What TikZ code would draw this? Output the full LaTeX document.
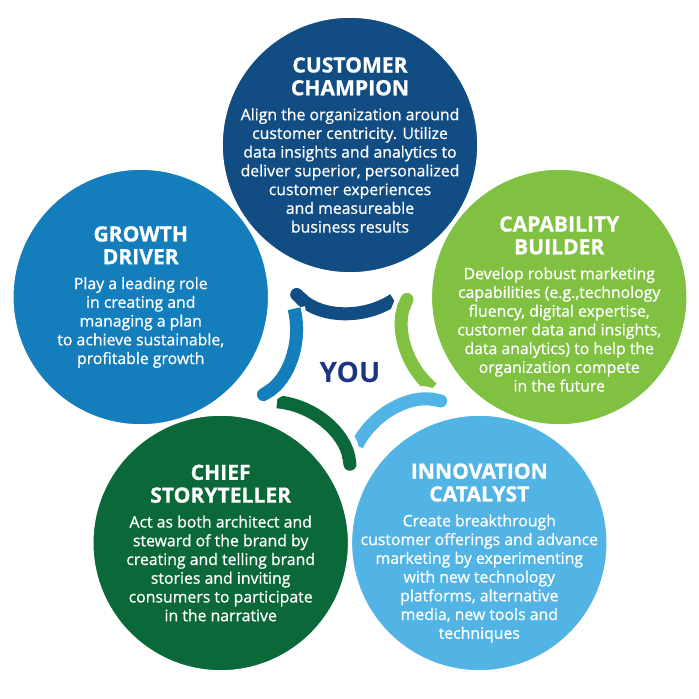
\documentclass[tikz,border=0pt]{standalone}
\usepackage{fontspec}
\setmainfont{Open Sans}
\newfontfamily\semibold{Open Sans}[FakeBold=0.8]
\usepackage{tikz}
\usetikzlibrary{arrows.meta}
\usepackage{color}
\definecolor{champion-blue}{RGB}{17,76,131}
\definecolor{growth-blue}{RGB}{20,126,188}
\definecolor{builder-green}{RGB}{128,193,66}
\definecolor{story-green}{RGB}{11,104,56}
\definecolor{catalyst-blue}{RGB}{82,180,229}
\definecolor{you-blue}{RGB}{28,52,132}
\newcommand{\roletitle}{\bfseries\fontsize{12}{13}\selectfont}

\tikzset{
	role/.style={circle, draw=white, line width=1.5pt, minimum size=5.14cm, inner sep=0pt},
	roletext/.style={text=white, align=center, inner sep=0pt, font=\semibold\fontsize{9}{10.66}\selectfont},
	gapline/.style={white, line width=0.44cm, arrows={Round Cap-}},
	ringline/.style={line width=0.26cm, arrows={Round Cap-}}
}

\begin{document}
\begin{tikzpicture}

			\useasboundingbox (-7,-6.68) rectangle (6.98,7.3);

			% the five roles
			\node[role, fill=champion-blue] (champion) at (90:4.4) {};
			\node[role, fill=growth-blue] (growth) at (162:4.4) {};
			\node[role, fill=builder-green] (builder) at (18:4.4) {};
			\node[role, fill=story-green] (story) at (234:4.4) {};
			\node[role, fill=catalyst-blue] (catalyst) at (306:4.4) {};

			\node[roletext] (champion text) at (champion) {{\roletitle CUSTOMER}\\[2.3pt]{\roletitle CHAMPION}\\[3.5pt]Align the organization around\\customer centricity. Utilize\\data insights and analytics to\\deliver superior, personalized\\customer experiences\\and measureable\\business results};
			\node[roletext] (growth text) at (growth) {{\roletitle GROWTH}\\[2.3pt]{\roletitle DRIVER}\\[3.5pt]Play a leading role\\in creating and\\managing a plan\\to achieve sustainable,\\profitable growth};
			\node[roletext] (builder text) at ([yshift=-0.14cm]builder.center) {{\roletitle CAPABILITY}\\[2.3pt]{\roletitle BUILDER}\\[3.5pt]Develop robust marketing\\capabilities (e.g.,technology\\fluency, digital expertise,\\customer data and insights,\\data analytics) to help the\\organization compete\\in the future};
			\node[roletext] (story text) at (story) {{\roletitle CHIEF}\\[2.3pt]{\roletitle STORYTELLER}\\[3.5pt]Act as both architect and\\steward of the brand by\\creating and telling brand\\stories and inviting\\consumers to participate\\in the narrative};
			\node[roletext] (catalyst text) at ([yshift=-0.2cm]catalyst.center) {{\roletitle INNOVATION}\\[2.3pt]{\roletitle CATALYST}\\[3.5pt]Create breakthrough\\customer offerings and advance\\marketing by experimenting\\with new technology\\platforms, alternative\\media, new tools and\\techniques};

			% arcs round the middle
			\coordinate (champion arc) at (-0.02,2.68);
			\coordinate (builder arc) at (2.70,0.79);
			\coordinate (catalyst arc) at (1.60,-2.35);
			\coordinate (story arc) at (-1.60,-2.37);
			\coordinate (growth arc) at (-2.71,0.73);

			\draw[gapline] ([shift={(226:1.64)}]champion arc) arc[start angle=226, end angle=303, radius=1.64];
			\draw[ringline, champion-blue] ([shift={(226:1.64)}]champion arc) arc[start angle=226, end angle=303, radius=1.64];
			\draw[gapline] ([shift={(157:1.64)}]builder arc) arc[start angle=157, end angle=230, radius=1.64];
			\draw[ringline, builder-green] ([shift={(157:1.64)}]builder arc) arc[start angle=157, end angle=230, radius=1.64];
			\draw[gapline] ([shift={(78:1.64)}]catalyst arc) arc[start angle=78, end angle=153, radius=1.64];
			\draw[ringline, catalyst-blue] ([shift={(78:1.64)}]catalyst arc) arc[start angle=78, end angle=153, radius=1.64];
			\draw[gapline] ([shift={(9:1.64)}]story arc) arc[start angle=9, end angle=85, radius=1.64];
			\draw[ringline, story-green] ([shift={(9:1.64)}]story arc) arc[start angle=9, end angle=85, radius=1.64];
			\draw[gapline] ([shift={(302:1.64)}]growth arc) arc[start angle=302, end angle=374, radius=1.64];
			\draw[ringline, growth-blue] ([shift={(302:1.64)}]growth arc) arc[start angle=302, end angle=374, radius=1.64];

			\node[font=\bfseries\fontsize{16}{16}\selectfont, text=you-blue] (you) at (0,-0.14) {YOU};

		\end{tikzpicture}
\end{document}
